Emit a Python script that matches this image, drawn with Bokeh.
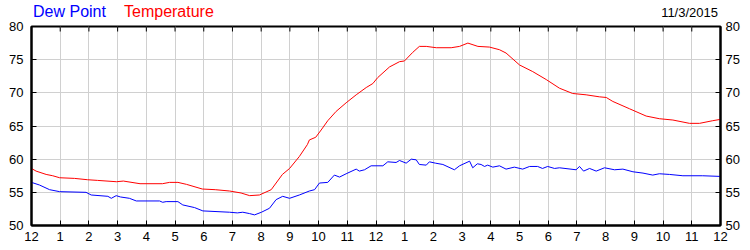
import math
from bokeh.plotting import figure
from bokeh.models import LinearAxis, FixedTicker, Range1d, Div
from bokeh.layouts import column
from bokeh.embed import file_html
from bokeh.resources import INLINE

# ---- data (hours after midnight, degrees F) ----
temp_hours = [0.00, 0.16, 0.51, 0.74, 0.98, 1.50, 1.95, 2.30, 2.96, 3.20, 3.78, 4.56, 4.81, 5.10,
              5.40, 5.95, 6.40, 6.90, 7.30, 7.60, 7.94, 8.35, 8.74, 8.99, 9.33, 9.61, 9.68, 9.90,
              10.09, 10.32, 10.61, 10.96, 11.31, 11.66, 11.89, 12.06, 12.47, 12.82, 12.99, 13.28,
              13.51, 13.75, 14.10, 14.62, 14.91, 15.20, 15.55, 15.95, 16.30, 16.53, 17.00, 17.46,
              17.93, 18.39, 18.85, 19.32, 19.78, 20.02, 20.25, 20.83, 21.41, 21.87, 22.34, 22.92,
              23.27, 23.73, 24.00]
temp = [58.6, 58.2, 57.7, 57.5, 57.2, 57.1, 56.9, 56.8, 56.6, 56.7, 56.3, 56.3, 56.5, 56.5,
        56.2, 55.5, 55.4, 55.2, 54.9, 54.5, 54.6, 55.4, 57.7, 58.6, 60.4, 62.2, 62.9, 63.3,
        64.4, 65.8, 67.2, 68.5, 69.7, 70.8, 71.4, 72.3, 73.9, 74.7, 74.8, 76.1,
        77.0, 77.0, 76.8, 76.8, 77.0, 77.5, 77.0, 76.9, 76.5, 76.0, 74.2, 73.2,
        72.0, 70.7, 69.9, 69.7, 69.4, 69.3, 68.7, 67.6, 66.5, 66.1, 65.9, 65.4,
        65.4, 65.8, 66.0]

dew_hours = [0.00, 0.28, 0.63, 0.98, 1.90, 2.08, 2.66, 2.78, 2.95, 3.10, 3.41, 3.65, 4.46, 4.57,
             4.69, 5.10, 5.27, 5.68, 5.97, 6.90, 7.17, 7.36, 7.59, 7.77, 8.01, 8.29, 8.52, 8.75,
             8.99, 9.33, 9.68, 9.86, 10.03, 10.32, 10.55, 10.73, 10.96, 11.31, 11.42, 11.60,
             11.83, 12.24, 12.41, 12.70, 12.82, 13.05, 13.23, 13.40, 13.51, 13.75, 13.86, 14.07,
             14.33, 14.73, 14.91, 15.26, 15.37, 15.53, 15.66, 15.78, 15.89, 16.07, 16.30, 16.53,
             16.82, 17.11, 17.35, 17.63, 17.80, 17.98, 18.22, 18.39, 18.97, 19.09, 19.23, 19.44,
             19.67, 19.96, 20.31, 20.60, 20.95, 21.30, 21.64, 21.87, 22.22, 22.69, 23.38, 24.00]
dew = [56.5, 56.1, 55.4, 55.1, 55.0, 54.6, 54.4, 54.1, 54.5, 54.3, 54.1, 53.7, 53.7, 53.5,
       53.6, 53.6, 53.1, 52.7, 52.2, 52.0, 51.9, 52.0, 51.8, 51.6, 52.0, 52.6, 53.9, 54.4,
       54.1, 54.6, 55.2, 55.4, 56.4, 56.5, 57.6, 57.3, 57.8, 58.5, 58.2, 58.4,
       59.0, 59.0, 59.6, 59.5, 59.8, 59.4, 60.0, 59.9, 59.2, 59.1, 59.6, 59.4,
       59.2, 58.4, 59.0, 59.7, 58.7, 59.3, 59.2, 58.9, 59.1, 58.8, 59.0, 58.5,
       58.8, 58.5, 58.9, 58.9, 58.6, 58.9, 58.6, 58.7, 58.4, 58.9, 58.2, 58.6,
       58.2, 58.7, 58.4, 58.5, 58.1, 57.9, 57.6, 57.8, 57.7, 57.5, 57.5, 57.4]

x_ticks = list(range(25))
x_tick_labels = ["12", "1", "2", "3", "4", "5", "6", "7", "8", "9", "10", "11",
                 "12", "1", "2", "3", "4", "5", "6", "7", "8", "9", "10", "11", "12"]
y_ticks = [50, 55, 60, 65, 70, 75, 80]
series_names = ["Dew Point", "Temperature"]
series_colors = ["#0000ff", "#ff0000"]
date_text = "11/3/2015"

FONT = "Liberation Sans"

# ---------------- header strip (legend texts + date), overlaps the chart's top border ----------------
header_html = (
    '<div style="position:relative;width:750px;height:25px;margin:0;padding:0;'
    "font-family:'Liberation Sans',Arial,sans-serif;\">"
    '<span style="position:absolute;left:33px;top:4px;font-size:16px;line-height:16px;'
    'white-space:nowrap;color:%s">%s</span>'
    '<span style="position:absolute;left:124px;top:4px;font-size:16px;line-height:16px;'
    'white-space:nowrap;color:%s">%s</span>'
    '<span style="position:absolute;right:32px;top:6px;font-size:13px;line-height:13px;'
    'white-space:nowrap;color:#000000">%s</span>'
    '</div>'
) % (series_colors[0], series_names[0], series_colors[1], series_names[1], date_text)
head = Div(text=header_html, width=750, height=25, margin=(0, 0, -25, 0))

# ---------------- main chart ----------------
p = figure(width=750, height=250, output_backend="svg", toolbar_location=None,
           x_range=Range1d(0, 24), y_range=Range1d(50, 80),
           x_axis_location=None, y_axis_location=None,
           min_border_left=31, min_border_right=30, min_border_top=26, min_border_bottom=25)
p.title.visible = False
p.background_fill_color = "white"
p.border_fill_color = None
p.outline_line_color = "black"
p.outline_line_width = 2

p.xgrid.ticker = FixedTicker(ticks=x_ticks)
p.ygrid.ticker = FixedTicker(ticks=y_ticks)
p.xgrid.grid_line_color = "#d0d0d0"
p.ygrid.grid_line_color = "#d0d0d0"


def style_axis(ax, standoff):
    ax.axis_line_color = "black"
    ax.axis_line_width = 2
    ax.major_tick_in = 5
    ax.major_tick_out = 0
    ax.minor_tick_in = 0
    ax.minor_tick_out = 0
    ax.major_tick_line_color = "black"
    ax.major_tick_line_width = 1
    ax.major_label_text_font = FONT
    ax.major_label_text_font_size = "13px"
    ax.major_label_text_color = "black"
    ax.major_label_standoff = standoff


overrides = {t: lab for t, lab in zip(x_ticks, x_tick_labels)}

xb = LinearAxis(ticker=FixedTicker(ticks=x_ticks), major_label_overrides=overrides)
style_axis(xb, 6)
p.add_layout(xb, "below")

yl = LinearAxis(ticker=FixedTicker(ticks=y_ticks))
style_axis(yl, 8)
p.add_layout(yl, "left")

yr = LinearAxis(ticker=FixedTicker(ticks=y_ticks))
style_axis(yr, 5)
p.add_layout(yr, "right")

# inward tick marks along the top edge (half of each dash is clipped by the frame)
p.scatter(x=x_ticks, y=[y_ticks[-1]] * len(x_ticks), marker="dash", angle=math.pi / 2,
          size=10, line_color="black", line_width=1)

# series lines
p.line(temp_hours, temp, line_color=series_colors[1], line_width=1)
p.line(dew_hours, dew, line_color=series_colors[0], line_width=1)

layout = column(head, p, spacing=0)
open("out.html", "w").write(file_html(layout, INLINE))
